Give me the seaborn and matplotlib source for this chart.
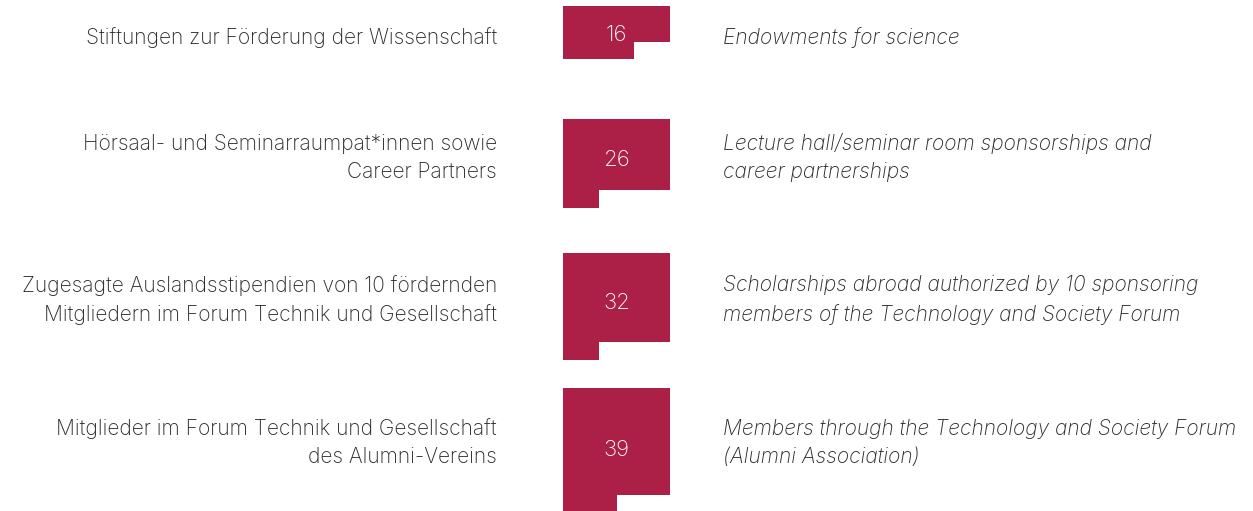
import matplotlib
matplotlib.use("Agg")
import matplotlib.pyplot as plt
from matplotlib.colors import ListedColormap
import numpy as np
import seaborn as sns

# data
values = [16, 26, 32, 39]
labels_de = [
    "Stiftungen zur Förderung der Wissenschaft",
    "Hörsaal- und Seminarraumpat*innen sowie\nCareer Partners",
    "Zugesagte Auslandsstipendien von 10 fördernden\nMitgliedern im Forum Technik und Gesellschaft",
    "Mitglieder im Forum Technik und Gesellschaft\ndes Alumni-Vereins",
]
labels_en = [
    "Endowments for science",
    "Lecture hall/seminar room sponsorships and\ncareer partnerships",
    "Scholarships abroad authorized by 10 sponsoring\nmembers of the Technology and Society Forum",
    "Members through the Technology and Society Forum\n(Alumni Association)",
]

# layout (pixels)
W, H = 1253, 511
ncols = 6
block_x = 563
block_w = 107
cell = block_w / ncols
block_tops = [6, 119, 253, 388]
text_y = [38, 158, 300, 443]
num_y = [35, 160, 303, 450]
color = "#AC1F47"
txt_color = "#2b2b2b"

sns.set_theme(style="white")
plt.rcParams["font.family"] = ["Inter", "DejaVu Sans"]

fig = plt.figure(figsize=(W / 100, H / 100), dpi=100)

for v, top in zip(values, block_tops):
    nrows = int(np.ceil(v / ncols))
    grid = np.ones((nrows, ncols))
    idx = np.arange(nrows * ncols).reshape(nrows, ncols)
    mask = idx >= v
    h = nrows * cell
    bax = fig.add_axes([block_x / W, 1 - (top + h) / H, block_w / W, h / H])
    sns.heatmap(grid, mask=mask, cmap=ListedColormap([color]), cbar=False,
                linewidths=0, ax=bax, xticklabels=False, yticklabels=False)
    bax.axis("off")

# text layer on top
ax = fig.add_axes([0, 0, 1, 1])
ax.set_xlim(0, W)
ax.set_ylim(H, 0)
ax.axis("off")
ax.patch.set_alpha(0)

for v, de, en, ny, ty in zip(values, labels_de, labels_en, num_y, text_y):
    ax.text(block_x + block_w / 2, ny, str(v), color="white",
            fontsize=16, fontweight="light", ha="center", va="center")
    ax.text(497, ty, de, color=txt_color, fontsize=15.1, fontweight="light",
            ha="right", va="center", linespacing=1.5, multialignment="right")
    ax.text(723, ty, en, color=txt_color, fontsize=15.1, fontweight="light",
            ha="left", va="center", linespacing=1.5, style="italic")

fig.savefig("out.png", dpi=100)
